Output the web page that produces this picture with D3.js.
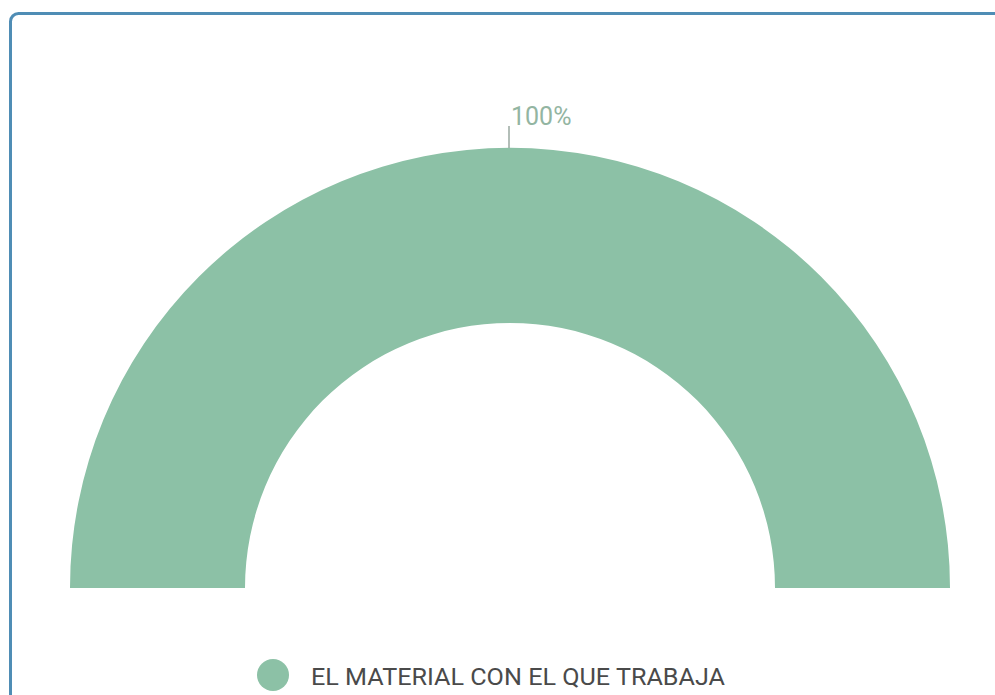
<!DOCTYPE html>
<html>
<head>
<meta charset="utf-8">
<script src="https://cdn.jsdelivr.net/npm/d3@7"></script>
<style>
  html, body { margin: 0; padding: 0; background: #fff; }
  svg { display: block; }
</style>
</head>
<body>
<svg id="chart" width="995" height="695"></svg>
<script>
// Chart data
const categories = ["EL MATERIAL CON EL QUE TRABAJA"];
const values = [100];
const colors = ["#8cc1a6"];

const svg = d3.select("#chart");

// Card frame
svg.append("rect")
  .attr("x", 10.5).attr("y", 13.5)
  .attr("width", 1000).attr("height", 700)
  .attr("rx", 8).attr("ry", 8)
  .attr("fill", "#fff")
  .attr("stroke", "#4f8db5")
  .attr("stroke-width", 3);

// Half-donut geometry
const cx = 510, cy = 588;
const outerR = 440, innerR = 265;

const pie = d3.pie()
  .sort(null)
  .startAngle(-Math.PI / 2)
  .endAngle(Math.PI / 2)
  .value(d => d.value);

const data = categories.map((c, i) => ({ name: c, value: values[i], color: colors[i] }));
const arcs = pie(data);
const total = d3.sum(values);

const arc = d3.arc().innerRadius(innerR).outerRadius(outerR);

const g = svg.append("g").attr("transform", `translate(${cx},${cy})`);

g.selectAll("path.slice")
  .data(arcs)
  .join("path")
  .attr("class", "slice")
  .attr("d", arc)
  .attr("fill", d => d.data.color);

// Percentage labels with leader ticks
const pct = d3.format(".0%");
arcs.forEach(d => {
  const mid = (d.startAngle + d.endAngle) / 2;
  const p0 = [Math.sin(mid) * outerR, -Math.cos(mid) * outerR];
  const p1 = [Math.sin(mid) * (outerR + 22), -Math.cos(mid) * (outerR + 22)];
  g.append("line")
    .attr("x1", p0[0] - 1).attr("y1", p0[1])
    .attr("x2", p1[0] - 1).attr("y2", p1[1])
    .attr("stroke", "#9aa9a0")
    .attr("stroke-width", 1.5);
  g.append("text")
    .attr("x", p1[0] + 1)
    .attr("y", p1[1] - 1)
    .attr("font-family", "Roboto, sans-serif")
    .attr("font-size", 25)
    .attr("fill", "#93b5a2")
    .text(pct(d.data.value / total));
});

// Legend
const legend = svg.append("g").attr("transform", "translate(273,675)");
data.forEach((d, i) => {
  legend.append("circle")
    .attr("cx", 0).attr("cy", 0).attr("r", 16)
    .attr("fill", d.color);
  legend.append("text")
    .attr("x", 38).attr("y", 10)
    .attr("font-family", "Roboto, sans-serif")
    .attr("font-size", 24)
    .attr("textLength", 414)
    .attr("lengthAdjust", "spacingAndGlyphs")
    .attr("fill", "#4a4a4a")
    .text(d.name);
});
</script>
</body>
</html>
